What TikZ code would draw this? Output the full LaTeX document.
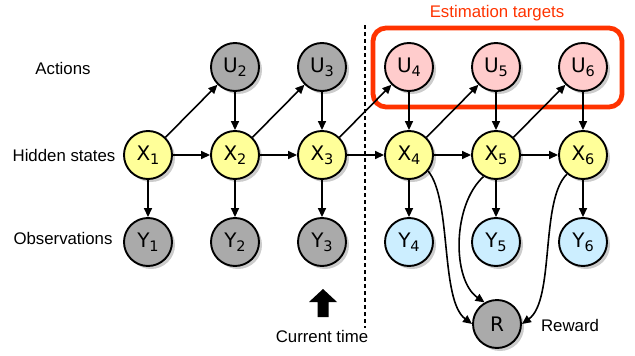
\documentclass[tikz,border=0pt]{standalone}
\usepackage{fontspec}
\setmainfont{Liberation Sans}
\newfontfamily\nodefont{DejaVu Sans}
\usetikzlibrary{arrows.meta,shadows}
\definecolor{hyel}{HTML}{FFFF99}
\definecolor{hgray}{HTML}{AAAAAA}
\definecolor{hpink}{HTML}{FFCCCC}
\definecolor{hblue}{HTML}{CCEEFF}
\definecolor{hred}{HTML}{FF3300}
\tikzset{
  var/.style={circle, draw=black, line width=1.9pt, minimum size=48pt, inner sep=0pt,
    font=\nodefont\fontsize{20}{22}\selectfont,
    drop shadow={shadow xshift=3pt, shadow yshift=-3pt, fill=black, opacity=0.2}},
  hid/.style={var, fill=hyel},
  obs/.style={var, fill=hgray},
  act/.style={var, fill=hgray},
  tact/.style={var, fill=hpink},
  tobs/.style={var, fill=hblue},
  lbl/.style={font=\fontsize{16.8}{18}\selectfont, inner sep=0pt},
  edge/.style={line width=1.6pt, -{Triangle[length=9pt,width=8pt]}},
}
\newcommand{\vsub}[2]{#1\raisebox{-0.4ex}{\fontsize{14.5}{15}\selectfont #2}}
\begin{document}
\begin{tikzpicture}[x=1pt,y=-1pt]
\useasboundingbox (0,0) rectangle (635,356);
% labels
\node[lbl] (lact) at (63,68) {Actions};
\node[lbl] (lhid) at (64,155) {Hidden states};
\node[lbl] (lobs) at (63,238) {Observations};
\node[lbl, text=hred] (lest) at (497,13) {Estimation targets};
\node[lbl] (lrew) at (570,325) {Reward};
\node[lbl] (lcur) at (322,336) {Current time};
% red box
\draw[hred, line width=4.8pt, rounded corners=13pt] (373,28) rectangle (622,107);
% dashed line
\coordinate (dtop) at (365,25);
\coordinate (dbot) at (365,328);
\draw[line width=1.6pt, dash pattern=on 4pt off 3pt] (dtop) -- (dbot);
% current time arrow
\fill (323,289) -- (337,302) -- (328.5,302) -- (328.5,317) -- (317.5,317) -- (317.5,302) -- (309,302) -- cycle;
% nodes
\node[hid] (X1) at (148,155) {\vsub{X}{1}};
\node[hid] (X2) at (235,155) {\vsub{X}{2}};
\node[hid] (X3) at (322,155) {\vsub{X}{3}};
\node[hid] (X4) at (409,155) {\vsub{X}{4}};
\node[hid] (X5) at (496,155) {\vsub{X}{5}};
\node[hid] (X6) at (583,155) {\vsub{X}{6}};
\node[act] (U2) at (235,67) {\vsub{U}{2}};
\node[act] (U3) at (322,67) {\vsub{U}{3}};
\node[tact] (U4) at (409,67) {\vsub{U}{4}};
\node[tact] (U5) at (496,67) {\vsub{U}{5}};
\node[tact] (U6) at (583,67) {\vsub{U}{6}};
\node[obs] (Y1) at (148,242) {\vsub{Y}{1}};
\node[obs] (Y2) at (235,242) {\vsub{Y}{2}};
\node[obs] (Y3) at (322,242) {\vsub{Y}{3}};
\node[tobs] (Y4) at (409,242) {\vsub{Y}{4}};
\node[tobs] (Y5) at (496,242) {\vsub{Y}{5}};
\node[tobs] (Y6) at (583,242) {\vsub{Y}{6}};
\node[obs] (R) at (497,324) {R};
% edges
\foreach \a/\b in {X1/X2,X2/X3,X3/X4,X4/X5,X5/X6,
                   X1/U2,X2/U3,X3/U4,X4/U5,X5/U6,
                   U2/X2,U3/X3,U4/X4,U5/X5,U6/X6,
                   X1/Y1,X2/Y2,X3/Y3,X4/Y4,X5/Y5,X6/Y6}
  \draw[edge] (\a) -- (\b);
\draw[edge] (X4.-40) .. controls (452,200) and (440,300) .. (R.180);
\draw[edge] (X5.-120) .. controls (452,205) and (452,280) .. (R.120);
\draw[edge] (X6.-130) .. controls (540,200) and (555,300) .. (R.0);
\end{tikzpicture}
\end{document}
